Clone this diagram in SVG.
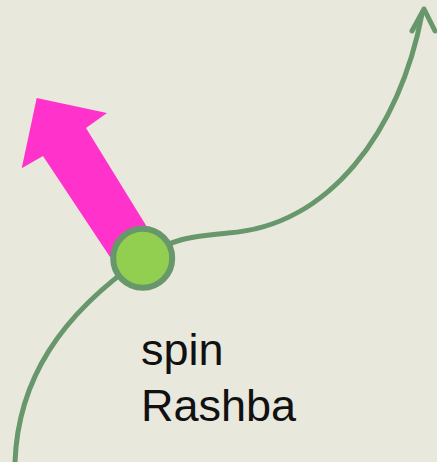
<svg xmlns="http://www.w3.org/2000/svg" width="437" height="462" viewBox="0 0 437 462">
<style>
.curve{fill:none;stroke:#67976b;stroke-width:5;stroke-linecap:round;stroke-linejoin:round}
.lbl{font-family:"Liberation Sans",Arial,sans-serif;font-size:45px;fill:#111}
</style>
<rect width="437" height="462" fill="#e9e8dd"/>
<g id="connectors">
<path class="curve" d="M15,462 C18,380 60,315 143,258 C175,236 200,236 228,233 C330,226 400,130 422,14"/>
<path class="curve" d="M412,31 L424,9 L435,31"/>
</g>
<g id="spin-arrow">
<polygon points="36.7,98 107,113 86,128 147,227 110,257 43,156 21.7,168.3" fill="#ff33cc"/>
</g>
<g id="particle">
<circle cx="142.7" cy="258.3" r="29.5" fill="#92cf50" stroke="#67976b" stroke-width="6"/>
</g>
<g id="label">
<text class="lbl" x="141" y="365">spin</text>
<text class="lbl" x="141" y="421">Rashba</text>
</g>
</svg>
